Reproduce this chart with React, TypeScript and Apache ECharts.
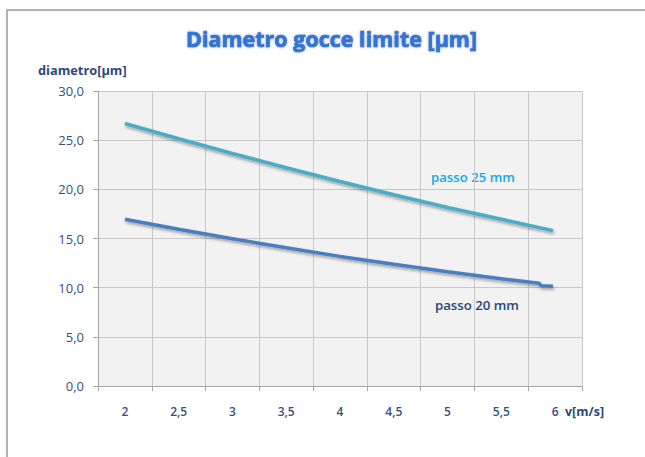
import React, { useEffect, useRef } from "react";
import * as echarts from "echarts";

const categories = ["2", "2,5", "3", "3,5", "4", "4,5", "5", "5,5", "6"];
const yTicks = [0, 5, 10, 15, 20, 25, 30];
const passo25X = [2, 2.5, 3, 3.5, 4, 4.5, 5, 5.5, 5.98];
const passo25Y = [26.7, 25.15, 23.65, 22.2, 20.8, 19.45, 18.15, 16.95, 15.8];
const passo20X = [2, 2.5, 3, 3.5, 4, 4.5, 5, 5.5, 5.85, 5.87, 5.98];
const passo20Y = [16.95, 15.95, 14.98, 14.05, 13.18, 12.38, 11.62, 10.9, 10.45, 10.2, 10.15];

const TITLE = "Diametro gocce limite [μm]";
const Y_NAME = "diametro[μm]";
const X_NAME = "v[m/s]";
const LABEL_25 = "passo 25 mm";
const LABEL_20 = "passo 20 mm";

export default function App() {
  const ref = useRef<HTMLDivElement>(null);
  useEffect(() => {
    if (!ref.current) return;
    const chart = echarts.init(ref.current, undefined, { renderer: "svg" });
    const font = "'Open Sans', 'Noto Sans', sans-serif";
    const labelColor = "#34507f";
    const shadow = {
      shadowColor: "rgba(0,0,0,0.35)",
      shadowBlur: 3,
      shadowOffsetX: 1,
      shadowOffsetY: 2,
    };
    chart.setOption({
      animation: false,
      backgroundColor: "#ffffff",
      title: {
        text: TITLE,
        left: 181,
        top: 22,
        textStyle: {
          fontFamily: font,
          fontSize: 21.5,
          fontWeight: "bold",
          color: "#3274d4",
          textBorderColor: "#1c55a8",
          textBorderWidth: 0.6,
          textShadowColor: "rgba(120,160,230,0.8)",
          textShadowBlur: 3,
        },
      },
      grid: { left: 98, top: 91, right: 63, bottom: 71, backgroundColor: "#f2f2f2", show: true, borderWidth: 0 },
      xAxis: [
        {
          type: "category",
          data: categories,
          boundaryGap: true,
          axisLine: { show: true, lineStyle: { color: "#a6a6a6", width: 1 } },
          axisTick: { show: true, length: 5, lineStyle: { color: "#a6a6a6" } },
          splitLine: { show: true, lineStyle: { color: "#c8c8c8", width: 1 } },
          axisLabel: { color: labelColor, fontFamily: font, fontSize: 12, fontWeight: 600, margin: 19 },
        },
        {
          type: "value",
          min: 1.75,
          max: 6.25,
          show: false,
          position: "bottom",
          splitLine: { show: false },
        },
      ],
      yAxis: {
        type: "value",
        min: 0,
        max: 30,
        interval: 5,
        axisLine: { show: true, lineStyle: { color: "#a6a6a6", width: 1 } },
        axisTick: { show: true, length: 5, lineStyle: { color: "#a6a6a6" } },
        splitLine: { show: true, lineStyle: { color: "#c8c8c8", width: 1 } },
        axisLabel: {
          color: labelColor,
          fontFamily: font,
          fontSize: 13,
          margin: 14,
          formatter: (v: number) => (yTicks.includes(v) ? v.toFixed(1).replace(".", ",") : ""),
        },
      },
      series: [
        {
          name: LABEL_25,
          type: "line",
          xAxisIndex: 1,
          data: passo25X.map((x, i) => [x, passo25Y[i]]),
          showSymbol: false,
          lineStyle: { color: "#4bacc6", width: 3.5, ...shadow },
        },
        {
          name: LABEL_20,
          type: "line",
          xAxisIndex: 1,
          data: passo20X.map((x, i) => [x, passo20Y[i]]),
          showSymbol: false,
          lineStyle: { color: "#4a7ebf", width: 3.5, ...shadow },
        },
      ],
      graphic: [
        {
          type: "rect",
          shape: { x: 7, y: 10, width: 700, height: 500 },
          style: { fill: "none", stroke: "#b3b3b3", lineWidth: 2 },
          silent: true,
        },
        {
          type: "text",
          x: 38,
          y: 70,
          style: { text: Y_NAME, fontFamily: font, fontSize: 12.8, fontWeight: "bold", fill: "#2b4a78", verticalAlign: "middle" },
        },
        {
          type: "text",
          x: 565,
          y: 411,
          style: { text: X_NAME, fontFamily: font, fontSize: 12.5, fontWeight: "bold", fill: "#2b4a78", verticalAlign: "middle" },
        },
        {
          type: "text",
          x: 431,
          y: 177,
          style: { text: LABEL_25, fontFamily: font, fontSize: 13.2, fontWeight: 600, fill: "#12aaea", verticalAlign: "middle" },
        },
        {
          type: "text",
          x: 435,
          y: 305,
          style: { text: LABEL_20, fontFamily: font, fontSize: 13.2, fontWeight: 600, fill: "#25477a", verticalAlign: "middle" },
        },
      ],
    });
    return () => chart.dispose();
  }, []);
  return <div ref={ref} style={{ position: "fixed", left: 0, top: 0, width: 645, height: 457 }} />;
}
